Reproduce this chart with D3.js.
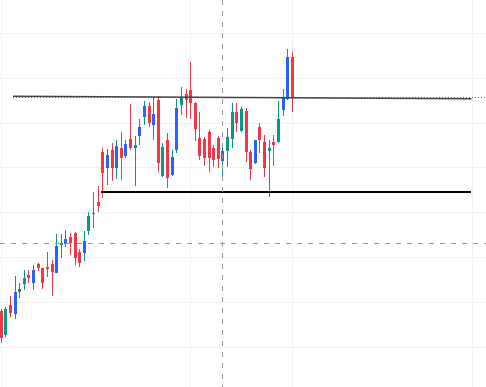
<!DOCTYPE html>
<html>
<head>
	<meta charset="utf-8">
	<script src="https://cdn.jsdelivr.net/npm/d3@7"></script>
	<style>
		body { margin: 0; background: #fff; }
		svg { display: block; }
	</style>
</head>
<body>
	<svg id="chart" width="486" height="387"></svg>
	<script>
		// daily candles, index 0..63
		var opens = [20.79, 20.26, 20.93, 20.73, 21.22, 21.40, 21.60, 21.42, 21.84, 21.75, 21.78, 21.84, 21.65, 22.27, 22.29, 22.45,
			22.53, 22.11, 22.09, 22.58, 22.98, 23.23, 24.35, 23.98, 24.39, 23.98, 24.43, 24.25, 24.63, 24.44, 24.70, 25.12,
			25.38, 24.95, 25.50, 23.81, 24.61, 23.84, 24.39, 25.39, 25.63, 25.73, 25.44, 24.65, 24.63, 24.80, 24.43, 24.65,
			24.15, 24.37, 24.63, 25.24, 24.82, 25.26, 24.35, 24.10, 24.89, 24.57, 24.37, 24.57, 24.57, 25.28, 25.52, 26.46];
		var highs = [20.84, 20.88, 21.13, 21.57, 21.42, 21.71, 21.71, 21.82, 21.86, 21.76, 22.12, 21.93, 22.51, 22.51, 22.60, 22.53,
			22.56, 22.17, 22.59, 23.01, 23.45, 23.58, 24.43, 24.40, 24.55, 24.61, 24.80, 24.61, 25.41, 24.69, 25.09, 25.48,
			25.47, 25.56, 25.59, 24.54, 24.76, 24.39, 25.53, 25.79, 25.76, 26.35, 25.46, 25.24, 24.68, 24.83, 24.50, 24.70,
			24.46, 24.87, 25.43, 25.43, 25.35, 25.32, 24.39, 24.62, 25.00, 24.72, 24.61, 24.72, 25.48, 25.76, 26.64, 26.57];
		var lows = [20.08, 20.21, 20.66, 20.61, 21.08, 21.26, 21.42, 21.26, 21.69, 21.28, 21.56, 21.13, 21.64, 21.98, 22.23, 22.04,
			21.82, 21.77, 21.92, 22.49, 22.65, 23.00, 23.32, 23.61, 23.69, 23.74, 23.71, 24.21, 24.39, 23.58, 24.50, 24.95,
			24.89, 24.61, 23.90, 23.78, 23.54, 23.81, 24.32, 25.17, 25.10, 25.08, 24.59, 24.16, 24.03, 23.90, 24.00, 23.98,
			23.81, 24.01, 24.43, 24.80, 24.80, 24.13, 23.72, 24.08, 24.32, 23.78, 23.34, 24.03, 24.55, 25.14, 25.50, 25.24];
		var closes = [20.19, 20.84, 20.75, 21.22, 21.28, 21.54, 21.53, 21.71, 21.76, 21.41, 21.72, 21.67, 22.24, 22.30, 22.40, 22.32,
			21.98, 21.86, 22.36, 22.91, 22.95, 23.14, 23.88, 24.28, 23.98, 24.48, 24.21, 24.52, 24.44, 24.50, 24.89, 25.37,
			24.99, 25.19, 24.09, 24.45, 23.76, 24.23, 25.32, 25.57, 25.50, 25.44, 24.86, 24.25, 24.22, 24.20, 24.16, 24.18,
			24.37, 24.67, 25.24, 25.00, 25.30, 24.35, 23.96, 24.61, 24.60, 23.98, 24.43, 24.50, 25.07, 25.54, 26.46, 25.56];
		// up candles drawn with a blue body
		var blueBars = [3, 7, 12, 14, 18, 23, 25, 27, 30, 31, 33, 37, 38, 48, 55, 61, 62];

		var gridPrices = [20, 21, 22, 23, 24, 25, 26, 27];
		var gridBars = [0, 41, 63, 102];

		// drawings: trend line, support line, crosshair
		var trendFrom = [2.66, 25.59], trendTo = [101.9, 25.53];
		var supportFrom = 21.7, supportTo = 101.9, supportPrice = 23.44;
		var crossBar = 48, crossPrice = 22.31;

		var svg = d3.select('#chart'),
			width = +svg.attr('width'),
			height = +svg.attr('height');

		var x = d3.scaleLinear().domain([0, 100]).range([0.7, 462.7]);
		var y = d3.scaleLinear().domain([20, 27]).range([346.5, 33]);

		var up = '#089981', down = '#F23645', blue = '#2962FF';

		var bars = closes.map((c, i) => ({
			i: i, o: opens[i], h: highs[i], l: lows[i], c: c,
			color: c >= opens[i] ? up : down,
			body: blueBars.indexOf(i) >= 0 ? blue : (c >= opens[i] ? up : down)
		}));

		// grid
		var grid = svg.append('g').attr('shape-rendering', 'crispEdges');
		grid.selectAll('.hg').data(gridPrices).enter().append('line')
			.attr('x1', 0).attr('x2', width)
			.attr('y1', d => Math.round(y(d)) + 0.5).attr('y2', d => Math.round(y(d)) + 0.5)
			.attr('stroke', '#f0f1f4');
		grid.selectAll('.vg').data(gridBars).enter().append('line')
			.attr('y1', 0).attr('y2', height)
			.attr('x1', d => Math.round(x(d)) + 0.5).attr('x2', d => Math.round(x(d)) + 0.5)
			.attr('stroke', '#f0f1f4');

		// candles
		var g = svg.append('g').attr('shape-rendering', 'crispEdges');
		var candle = g.selectAll('.candle').data(bars).enter().append('g');
		candle.append('line')
			.attr('x1', d => Math.round(x(d.i)) + 0.5).attr('x2', d => Math.round(x(d.i)) + 0.5)
			.attr('y1', d => y(d.h)).attr('y2', d => y(d.l))
			.attr('stroke', d => d.color);
		candle.append('rect')
			.attr('x', d => Math.round(x(d.i)) - 1)
			.attr('width', 3)
			.attr('y', d => y(Math.max(d.o, d.c)))
			.attr('height', d => Math.max(1, Math.abs(y(d.o) - y(d.c))))
			.attr('fill', d => d.body);

		// last price line
		var last = bars[bars.length - 1];
		svg.append('line')
			.attr('x1', x(trendFrom[0])).attr('x2', width)
			.attr('y1', Math.round(y(last.c)) + 0.5).attr('y2', Math.round(y(last.c)) + 0.5)
			.attr('stroke', last.color).attr('stroke-dasharray', '1,2');

		// trend line
		svg.append('line')
			.attr('x1', x(trendFrom[0])).attr('y1', y(trendFrom[1]))
			.attr('x2', x(trendTo[0])).attr('y2', y(trendTo[1]))
			.attr('stroke', '#40434d').attr('stroke-width', 1.5);

		// support line
		svg.append('line')
			.attr('shape-rendering', 'crispEdges')
			.attr('x1', x(supportFrom)).attr('x2', x(supportTo))
			.attr('y1', Math.round(y(supportPrice))).attr('y2', Math.round(y(supportPrice)))
			.attr('stroke', '#000').attr('stroke-width', 2);

		// crosshair
		var cross = svg.append('g').attr('stroke', '#9598a1').attr('stroke-dasharray', '5,6')
			.attr('shape-rendering', 'crispEdges');
		cross.append('line')
			.attr('x1', Math.round(x(crossBar)) + 0.5).attr('x2', Math.round(x(crossBar)) + 0.5)
			.attr('y1', 0).attr('y2', height);
		cross.append('line')
			.attr('x1', 0).attr('x2', width)
			.attr('y1', Math.round(y(crossPrice)) + 0.5).attr('y2', Math.round(y(crossPrice)) + 0.5);
	</script>
</body>
</html>
